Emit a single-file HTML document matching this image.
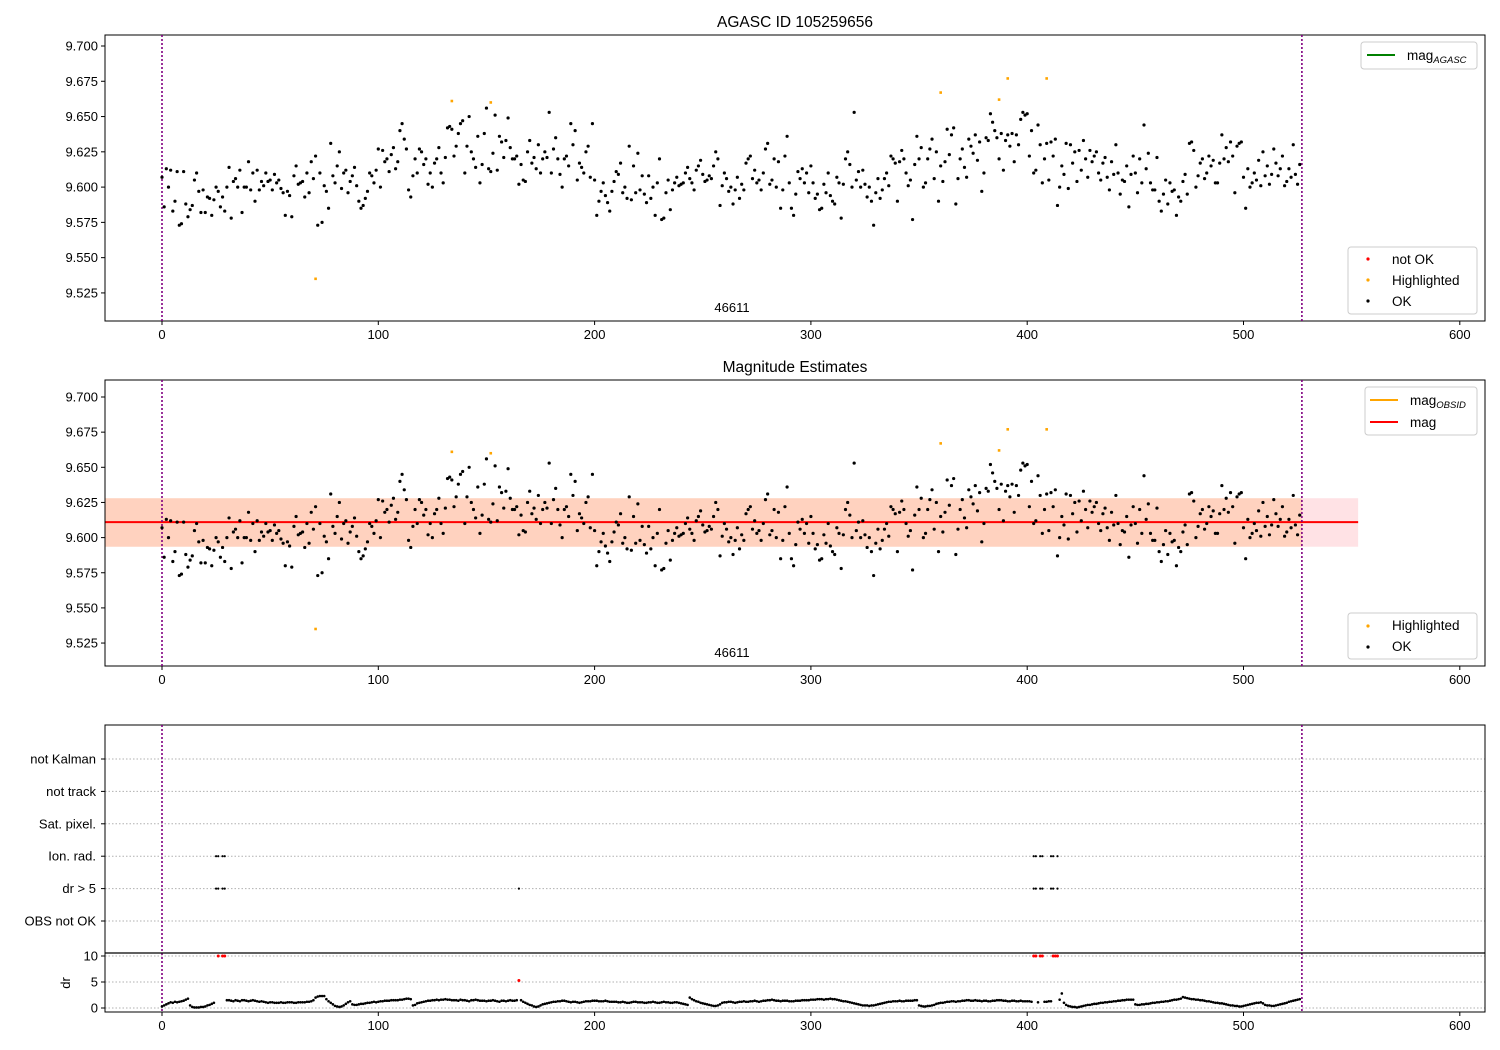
<!DOCTYPE html>
<html><head><meta charset="utf-8"><style>
body{margin:0;background:#fff}
svg{display:block;font-family:"Liberation Sans","DejaVu Sans",sans-serif}
</style></head><body>
<svg id="c" width="1500" height="1050" xmlns="http://www.w3.org/2000/svg"></svg>
<script>
const mag=[9.607,9.586,9.613,9.600,9.612,9.583,9.590,9.611,9.573,9.574,
9.611,9.588,9.579,9.584,9.587,9.605,9.610,9.597,9.582,9.598,
9.582,9.593,9.592,9.580,9.591,9.600,9.597,9.586,9.593,9.583,
9.600,9.614,9.578,9.604,9.606,9.600,9.612,9.582,9.600,9.600,
9.618,9.598,9.610,9.590,9.612,9.598,9.604,9.601,9.610,9.604,
9.605,9.598,9.609,9.603,9.605,9.599,9.596,9.580,9.597,9.594,
9.579,9.608,9.615,9.602,9.603,9.604,9.593,9.610,9.596,9.618,
9.606,9.622,9.573,9.610,9.575,9.601,9.597,9.585,9.631,9.608,
9.603,9.615,9.625,9.599,9.610,9.612,9.596,9.604,9.608,9.614,
9.601,9.590,9.585,9.587,9.592,9.597,9.610,9.608,9.603,9.612,
9.627,9.600,9.626,9.618,9.620,9.611,9.623,9.628,9.613,9.618,
9.640,9.645,9.634,9.627,9.598,9.593,9.608,9.620,9.610,9.627,
9.625,9.616,9.620,9.602,9.610,9.600,9.617,9.620,9.628,9.610,
9.603,9.621,9.642,9.643,9.641,9.622,9.629,9.638,9.645,9.647,
9.610,9.629,9.650,9.625,9.620,9.614,9.636,9.603,9.616,9.638,
9.656,9.613,9.611,9.624,9.651,9.612,9.636,9.632,9.621,9.633,
9.649,9.628,9.620,9.620,9.622,9.602,9.616,9.605,9.604,9.625,
9.633,9.617,9.621,9.613,9.630,9.610,9.620,9.625,9.621,9.653,
9.610,9.627,9.635,9.620,9.609,9.600,9.620,9.622,9.615,9.645,
9.630,9.640,9.605,9.617,9.614,9.610,9.625,9.629,9.607,9.645,
9.605,9.580,9.590,9.597,9.603,9.594,9.589,9.583,9.597,9.604,
9.611,9.609,9.617,9.596,9.600,9.592,9.629,9.591,9.615,9.596,
9.624,9.598,9.608,9.595,9.589,9.608,9.592,9.600,9.580,9.603,
9.620,9.577,9.578,9.596,9.605,9.584,9.598,9.603,9.607,9.601,
9.602,9.603,9.610,9.614,9.606,9.603,9.598,9.612,9.615,9.619,
9.609,9.604,9.605,9.608,9.606,9.615,9.625,9.620,9.587,9.601,
9.610,9.606,9.597,9.600,9.588,9.598,9.607,9.592,9.602,9.598,
9.617,9.620,9.622,9.606,9.612,9.603,9.605,9.598,9.610,9.627,
9.631,9.602,9.605,9.620,9.600,9.618,9.585,9.598,9.622,9.636,
9.603,9.585,9.580,9.595,9.611,9.606,9.613,9.603,9.610,9.596,
9.615,9.603,9.592,9.595,9.584,9.585,9.602,9.596,9.610,9.594,
9.590,9.588,9.607,9.603,9.578,9.602,9.620,9.625,9.616,9.600,
9.653,9.605,9.611,9.600,9.612,9.602,9.593,9.600,9.590,9.573,
9.596,9.606,9.592,9.598,9.606,9.610,9.601,9.622,9.620,9.617,
9.590,9.618,9.626,9.620,9.610,9.601,9.605,9.577,9.616,9.636,
9.620,9.628,9.600,9.603,9.620,9.627,9.634,9.606,9.625,9.590,
9.615,9.604,9.618,9.641,9.623,9.637,9.642,9.588,9.606,9.620,
9.627,9.614,9.607,9.634,9.629,9.624,9.637,9.619,9.632,9.597,
9.610,9.635,9.633,9.652,9.646,9.640,9.635,9.620,9.638,9.612,
9.633,9.637,9.629,9.638,9.618,9.637,9.630,9.648,9.653,9.651,
9.652,9.622,9.640,9.610,9.612,9.644,9.630,9.603,9.620,9.631,
9.605,9.632,9.622,9.634,9.587,9.600,9.615,9.609,9.631,9.599,
9.630,9.617,9.625,9.604,9.626,9.612,9.633,9.620,9.607,9.626,
9.618,9.622,9.625,9.610,9.605,9.617,9.621,9.607,9.598,9.618,
9.609,9.630,9.610,9.595,9.605,9.604,9.615,9.586,9.609,9.622,
9.610,9.596,9.620,9.603,9.644,9.613,9.624,9.603,9.598,9.598,
9.621,9.590,9.583,9.595,9.605,9.588,9.603,9.597,9.598,9.580,
9.593,9.590,9.604,9.609,9.595,9.631,9.632,9.626,9.600,9.608,
9.617,9.620,9.606,9.610,9.622,9.615,9.619,9.603,9.603,9.617,
9.637,9.620,9.628,9.618,9.632,9.622,9.596,9.629,9.631,9.632,
9.607,9.585,9.613,9.600,9.603,9.610,9.605,9.619,9.601,9.625,
9.608,9.615,9.602,9.609,9.627,9.617,9.608,9.613,9.622,9.601,
9.604,9.613,9.607,9.630,9.609,9.602,9.616];
const hiIdx=[71,134,152,360,387,391,409];
const hiMag=[9.535,9.661,9.660,9.667,9.662,9.677,9.677];
const dr=[0.3,0.5,0.7,0.9,1.1,1.0,1.2,1.1,1.2,1.3,
1.4,1.6,1.8,0.5,0.2,0.1,0.1,0.1,0.2,0.2,
0.3,0.5,0.6,0.8,1.0,null,null,null,null,null,
1.5,1.5,1.4,1.3,1.5,1.4,1.3,1.5,1.5,1.4,
1.3,1.4,1.5,1.4,1.3,1.2,1.3,1.2,1.1,1.0,
1.1,1.1,1.0,1.0,1.0,1.1,1.0,1.0,1.1,1.1,
1.1,1.0,1.0,1.1,1.1,1.1,1.1,1.2,1.2,1.3,
1.5,2.0,2.2,2.3,2.3,2.3,1.7,1.3,1.0,0.7,
0.4,0.3,0.2,0.3,0.5,0.8,1.1,1.3,0.7,0.6,
0.6,0.7,0.8,0.8,0.9,1.0,1.0,1.1,1.2,1.1,
1.2,1.3,1.3,1.4,1.4,1.4,1.5,1.5,1.5,1.5,
1.6,1.6,1.7,1.8,1.8,1.7,0.5,0.6,0.9,1.0,
1.1,1.2,1.3,1.4,1.4,1.5,1.5,1.6,1.5,1.6,
1.6,1.7,1.6,1.6,1.5,1.5,1.5,1.4,1.6,1.5,
1.5,1.4,1.3,1.5,1.5,1.6,1.5,1.4,1.4,1.4,
1.3,1.4,1.4,1.5,1.4,1.3,1.2,1.4,1.4,1.3,
1.4,1.5,1.4,1.4,1.5,null,1.5,1.2,1.0,0.8,
0.6,0.5,0.3,0.2,0.3,0.5,0.7,0.8,0.9,1.0,
1.1,1.2,1.2,1.3,1.3,1.4,1.4,1.3,1.2,1.1,
1.2,1.2,1.1,1.0,1.1,1.2,1.3,1.3,1.3,1.4,
1.4,1.4,1.3,1.3,1.3,1.4,1.3,1.2,1.2,1.2,
1.2,1.1,1.1,1.2,1.1,1.0,1.0,1.1,1.2,1.2,
1.1,1.1,1.1,1.0,1.0,1.1,1.1,1.2,1.1,1.0,
1.0,1.1,1.2,1.1,1.1,1.0,1.0,1.1,1.1,1.0,
0.9,0.8,0.7,0.6,2.0,1.7,1.5,1.3,1.2,1.0,
0.9,0.8,0.7,0.6,0.5,0.4,0.4,0.5,0.7,1.0,
1.1,1.1,1.2,1.2,1.1,1.0,1.1,1.2,1.2,1.3,
1.2,1.2,1.3,1.3,1.4,1.3,1.2,1.3,1.4,1.4,
1.5,1.5,1.6,1.5,1.4,1.4,1.3,1.4,1.4,1.4,
1.3,1.3,1.3,1.4,1.4,1.4,1.5,1.5,1.5,1.5,
1.6,1.6,1.6,1.7,1.7,1.7,1.6,1.7,1.7,1.8,
1.7,1.7,1.6,1.5,1.4,1.3,1.3,1.2,1.1,1.0,
0.9,0.8,0.7,0.6,0.5,0.5,0.5,0.4,0.5,0.5,
0.6,0.7,0.8,0.9,1.0,1.1,1.2,1.2,1.3,1.3,
1.3,1.4,1.3,1.3,1.4,1.4,1.4,1.4,1.5,1.5,
0.5,0.4,0.3,0.3,0.4,0.4,0.5,0.6,0.8,0.9,
1.0,1.0,1.1,1.2,1.2,1.3,1.3,1.2,1.3,1.3,
1.4,1.4,1.5,1.5,1.4,1.4,1.5,1.4,1.4,1.3,
1.4,1.4,1.3,1.3,1.4,1.4,1.5,1.5,1.5,1.4,
1.4,1.3,1.3,1.4,1.4,1.3,1.3,1.4,1.3,1.3,
1.3,1.3,1.2,null,null,1.1,null,null,1.2,1.2,
1.3,1.3,null,null,null,1.6,2.8,1.0,0.6,0.4,
0.3,0.2,0.2,0.1,0.2,0.3,0.4,0.5,0.6,0.6,
0.7,0.8,0.8,0.9,1.0,1.0,1.1,1.1,1.2,1.2,
1.3,1.3,1.4,1.4,1.5,1.5,1.6,1.6,1.6,1.6,
0.7,0.6,0.6,0.7,0.7,0.8,0.8,0.9,1.0,1.0,
1.1,1.1,1.2,1.2,1.3,1.3,1.4,1.5,1.6,1.6,
1.7,1.8,2.1,2.0,1.9,1.8,1.7,1.7,1.6,1.6,
1.5,1.5,1.4,1.3,1.3,1.2,1.1,1.0,1.0,0.9,
0.9,0.8,0.7,0.6,0.5,0.5,0.4,0.4,0.3,0.3,
0.4,0.5,0.6,0.7,0.8,0.9,1.0,1.0,1.1,0.9,
0.6,0.5,0.5,0.4,0.4,0.5,0.6,0.7,0.8,0.9,
1.0,1.2,1.3,1.4,1.5,1.6,1.7];
const ionIdx=[25,26,28,29,403,404,406,407,411,412,414];
const drBigIdx=[25,26,28,29,165,403,404,406,407,411,412,414];
const redIdx=[26,28,29,165,403,404,406,407,412,413,414];
const redDr=[10,10,10,5.3,10,10,10,10,10,10,10];
const xTicks=[0,100,200,300,400,500,600];
const magTicks=[9.700,9.675,9.650,9.625,9.600,9.575,9.550,9.525];
const cats=["not Kalman","not track","Sat. pixel.","Ion. rad.","dr > 5","OBS not OK"];
const drTicks=[10,5,0];
const magMean=9.611, magLo=9.5935, magHi=9.628, obsEnd=527;

const S=document.getElementById('c'),NS='http://www.w3.org/2000/svg';
function el(t,a,p){const e=document.createElementNS(NS,t);for(const k in a)e.setAttribute(k,a[k]);(p||S).appendChild(e);return e;}
function txt(s,a,p){const e=el('text',a,p);e.textContent=s;return e;}
function subLabel(main,sub,x,y,p){const t=el('text',{x:x,y:y,'font-size':13.5},p);t.appendChild(document.createTextNode(main));
  const ts=document.createElementNS(NS,'tspan');ts.setAttribute('font-size','9.5');ts.setAttribute('font-style','italic');ts.setAttribute('dy','3');ts.textContent=sub;t.appendChild(ts);return t;}
const X=v=>162+v*2.163;
const Y1=v=>46+(9.700-v)*1411;
const Y2=v=>397+(9.700-v)*1406;
const Yd=v=>1008-v*5.2;
const Yc=i=>759+i*32.4;

function frame(y0,y1,name){
  const f=el('rect',{x:105,y:y0,width:1380,height:y1-y0,fill:'none',stroke:'#000','stroke-width':1});
  
  
}
function xaxis(yb,labels){
  const g=el('g',{});
  
  
  xTicks.forEach(t=>{el('line',{x1:X(t),x2:X(t),y1:yb,y2:yb+4,stroke:'#000'},g);
    if(labels)txt(String(t),{x:X(t),y:yb+18,'font-size':13,'text-anchor':'middle'},g);});
}
function vlines(y0,y1){[0,obsEnd].forEach(v=>{const l=el('line',{x1:X(v),x2:X(v),y1:y0,y2:y1,stroke:'#800080','stroke-width':1.6,'stroke-dasharray':'2,2'});
  });}
function yaxis(ticks,Y,g,fmt){ticks.forEach(t=>{el('line',{x1:101,x2:105,y1:Y(t),y2:Y(t),stroke:'#000'},g);
  txt(fmt(t),{x:98,y:Y(t)+4.5,'font-size':13,'text-anchor':'end'},g);});}

// Panel 1
txt('AGASC ID 105259656',{x:795,y:27,'font-size':15.5,'text-anchor':'middle'});
frame(35,321,'panel-agasc');
let g1=el('g',{});
yaxis(magTicks,Y1,g1,t=>t.toFixed(3));
xaxis(321,true);
vlines(35,321);
let p1=el('g',{});
mag.forEach((m,i)=>el('circle',{cx:X(i),cy:Y1(m),r:1.6,fill:'#000'},p1));
hiIdx.forEach((k,j)=>el('rect',{x:X(k)-1.3,y:Y1(hiMag[j])-1.3,width:2.6,height:2.6,fill:'orange'},p1));
txt('46611',{x:732,y:312,'font-size':13,'text-anchor':'middle'});

let L1=el('g',{});
el('rect',{x:1361,y:42,width:116,height:27,rx:3,fill:'#fff',stroke:'#ccc'},L1);
el('line',{x1:1367,x2:1395,y1:55,y2:55,stroke:'green','stroke-width':2},L1);
subLabel('mag','AGASC',1407,60,L1);
let L2=el('g',{});
el('rect',{x:1348,y:247,width:129,height:67,rx:3,fill:'#fff',stroke:'#ccc'},L2);
[['red','not OK'],['orange','Highlighted'],['#000','OK']].forEach((d,i)=>{
  el('circle',{cx:1368,cy:259+i*21,r:1.6,fill:d[0]},L2);
  txt(d[1],{x:1392,y:264+i*21,'font-size':13.5},L2);});

// Panel 2
txt('Magnitude Estimates',{x:795,y:372,'font-size':15.5,'text-anchor':'middle'});
let band=el('rect',{x:105,y:Y2(magHi),width:X(553)-105,height:Y2(magLo)-Y2(magHi),fill:'rgba(255,160,170,0.3)'});

let band2=el('rect',{x:105,y:Y2(magHi),width:X(obsEnd)-105,height:Y2(magLo)-Y2(magHi),fill:'rgba(255,165,80,0.25)'});

let ml=el('line',{x1:105,x2:X(553),y1:Y2(magMean),y2:Y2(magMean),stroke:'red','stroke-width':2});

frame(380,666,'panel-estimates');
let g2=el('g',{});
yaxis(magTicks,Y2,g2,t=>t.toFixed(3));
xaxis(666,true);
vlines(380,666);
let p2=el('g',{});
mag.forEach((m,i)=>el('circle',{cx:X(i),cy:Y2(m),r:1.6,fill:'#000'},p2));
hiIdx.forEach((k,j)=>el('rect',{x:X(k)-1.3,y:Y2(hiMag[j])-1.3,width:2.6,height:2.6,fill:'orange'},p2));
txt('46611',{x:732,y:657,'font-size':13,'text-anchor':'middle'});
let L3=el('g',{});
el('rect',{x:1365,y:387,width:112,height:48,rx:3,fill:'#fff',stroke:'#ccc'},L3);
el('line',{x1:1370,x2:1398,y1:400,y2:400,stroke:'orange','stroke-width':2},L3);
subLabel('mag','OBSID',1410,405,L3);
el('line',{x1:1370,x2:1398,y1:422,y2:422,stroke:'red','stroke-width':2},L3);
txt('mag',{x:1410,y:427,'font-size':13.5},L3);
let L4=el('g',{});
el('rect',{x:1348,y:613,width:129,height:46,rx:3,fill:'#fff',stroke:'#ccc'},L4);
[['orange','Highlighted'],['#000','OK']].forEach((d,i)=>{
  el('circle',{cx:1368,cy:626+i*21,r:1.6,fill:d[0]},L4);
  txt(d[1],{x:1392,y:630+i*21,'font-size':13.5},L4);});

// Panel 3 flags
let g3=el('g',{});
cats.forEach((c,i)=>{el('line',{x1:105,x2:1485,y1:Yc(i),y2:Yc(i),stroke:'#b0b0b0','stroke-dasharray':'1.5,2'},g3);
  el('line',{x1:101,x2:105,y1:Yc(i),y2:Yc(i),stroke:'#000'},g3);
  txt(c,{x:96,y:Yc(i)+4.5,'font-size':13,'text-anchor':'end'},g3);});
frame(725,953,'panel-flags');
let pf=el('g',{});
ionIdx.forEach(k=>el('circle',{cx:X(k),cy:Yc(3),r:1.1,fill:'#000'},pf));
drBigIdx.forEach(k=>el('circle',{cx:X(k),cy:Yc(4),r:1.1,fill:'#000'},pf));
vlines(725,1012);

// dr panel
let gd=el('g',{});
drTicks.forEach(t=>{el('line',{x1:105,x2:1485,y1:Yd(t),y2:Yd(t),stroke:'#b0b0b0','stroke-dasharray':'1.5,2'},gd);});
yaxis(drTicks,Yd,gd,t=>String(t));
let dl=txt('dr',{x:0,y:0,'font-size':13,'text-anchor':'middle',transform:'translate(70,983) rotate(-90)'});

let pd=el('g',{});
dr.forEach((d,i)=>{if(d!==null)el('circle',{cx:X(i),cy:Yd(d),r:1.3,fill:'#000'},pd);});
redIdx.forEach((k,j)=>el('circle',{cx:X(k),cy:Yd(redDr[j]),r:1.5,fill:'red'},pd));
el('line',{x1:105,x2:1485,y1:953,y2:953,stroke:'#000','stroke-width':1.2});
frame(953,1012,'panel-dr');
xaxis(1012,true);
</script>
</body></html>
